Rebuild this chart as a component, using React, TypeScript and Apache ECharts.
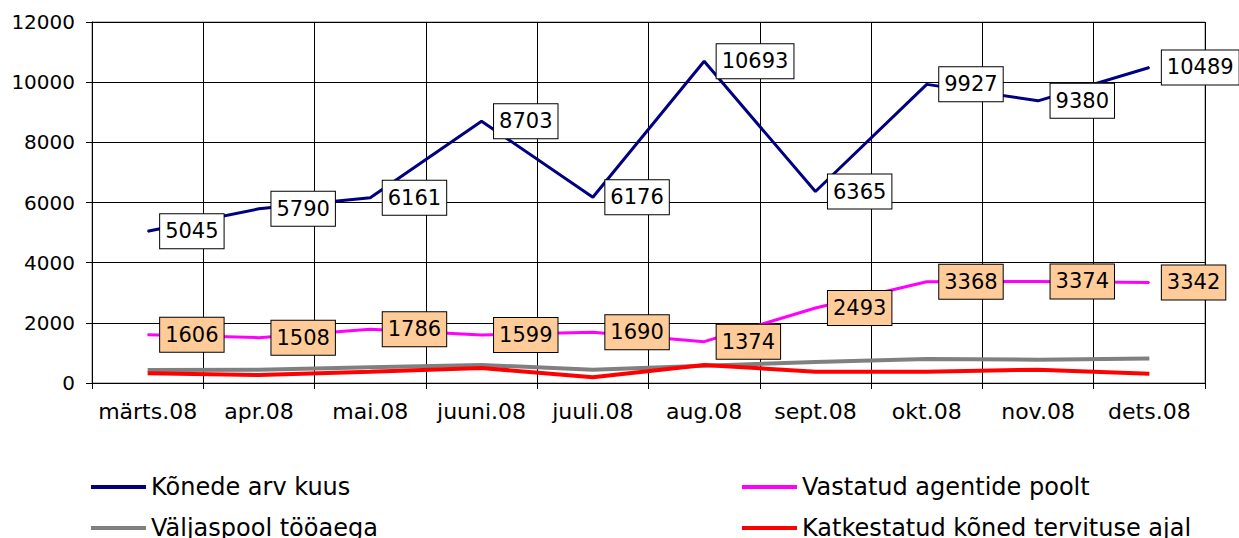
import React, { useEffect, useRef } from "react";
import * as echarts from "echarts";

const categories = ["märts.08", "apr.08", "mai.08", "juuni.08", "juuli.08", "aug.08", "sept.08", "okt.08", "nov.08", "dets.08"];
const calls = [5045, 5790, 6161, 8703, 6176, 10693, 6365, 9927, 9380, 10489];
const answered = [1606, 1508, 1786, 1599, 1690, 1374, 2493, 3368, 3374, 3342];
const outside = [432, 440, 520, 598, 443, 575, 698, 798, 775, 818];
const dropped = [322, 266, 376, 499, 188, 600, 376, 376, 443, 309];
const yTicks = { min: 0, max: 12000, interval: 2000 };

const FONT = "DejaVu Sans";

export default function App() {
  const ref = useRef<HTMLDivElement>(null);
  useEffect(() => {
    document.body.style.margin = "0";
    const chart = echarts.init(ref.current!, null, { renderer: "svg" });
    const labelBase = {
      show: true,
      position: "right" as const,
      distance: 12,
      fontFamily: FONT,
      fontSize: 21,
      color: "#000",
      borderColor: "#000",
      borderWidth: 1,
      padding: [7, 5, 6, 5],
    };
    const legendBase = {
      orient: "vertical" as const,
      top: 473,
      height: 120,
      itemWidth: 55,
      itemHeight: 4,
      itemGap: 13,
      icon: "rect",
      padding: 0,
      textStyle: { fontFamily: FONT, fontSize: 24, color: "#000", lineHeight: 28 },
    };
    chart.setOption({
      animation: false,
      backgroundColor: "#fff",
      textStyle: { fontFamily: FONT },
      grid: {
        left: 92,
        right: 34,
        top: 22,
        bottom: 155,
        show: true,
        borderColor: "#808080",
        borderWidth: 1,
      },
      legend: [
        { ...legendBase, data: ["Kõnede arv kuus", "Väljaspool tööaega"], left: 91 },
        { ...legendBase, data: ["Vastatud agentide poolt", "Katkestatud kõned tervituse ajal"], left: 742 },
      ],
      xAxis: {
        type: "category",
        data: categories,
        boundaryGap: true,
        axisLine: { lineStyle: { color: "#000", width: 1 } },
        axisTick: { show: true, length: 6, lineStyle: { color: "#000" } },
        axisLabel: { fontFamily: FONT, fontSize: 22, color: "#000", margin: 17, interval: 0 },
        splitLine: { show: true, lineStyle: { color: "#000", width: 1 } },
      },
      yAxis: {
        type: "value",
        min: yTicks.min,
        max: yTicks.max,
        interval: yTicks.interval,
        axisLine: { show: true, lineStyle: { color: "#000", width: 1 } },
        axisTick: { show: true, length: 6, lineStyle: { color: "#000" } },
        axisLabel: {
          fontFamily: FONT,
          fontSize: 20,
          color: "#000",
          margin: 17,
          formatter: (v: number) => String(v),
        },
        splitLine: { show: true, lineStyle: { color: "#000", width: 1 } },
      },
      series: [
        {
          name: "Väljaspool tööaega",
          type: "line",
          data: outside,
          symbol: "none",
          color: "#808080",
          lineStyle: { color: "#808080", width: 4 },
          z: 2,
        },
        {
          name: "Katkestatud kõned tervituse ajal",
          type: "line",
          data: dropped,
          symbol: "none",
          color: "#ff0000",
          lineStyle: { color: "#ff0000", width: 4 },
          z: 3,
        },
        {
          name: "Vastatud agentide poolt",
          type: "line",
          data: answered,
          symbol: "circle",
          symbolSize: 1,
          showSymbol: true,
          color: "#ff00ff",
          itemStyle: { color: "#ff00ff" },
          lineStyle: { color: "#ff00ff", width: 3 },
          label: { ...labelBase, backgroundColor: "#ffcc99" },
          z: 4,
        },
        {
          name: "Kõnede arv kuus",
          type: "line",
          data: calls,
          symbol: "circle",
          symbolSize: 1,
          showSymbol: true,
          color: "#000080",
          itemStyle: { color: "#000080" },
          lineStyle: { color: "#000080", width: 3 },
          label: { ...labelBase, backgroundColor: "#ffffff" },
          z: 5,
        },
      ],
    });
    return () => chart.dispose();
  }, []);
  return <div ref={ref} style={{ width: 1239, height: 538, position: "absolute", left: 0, top: 0 }} />;
}
